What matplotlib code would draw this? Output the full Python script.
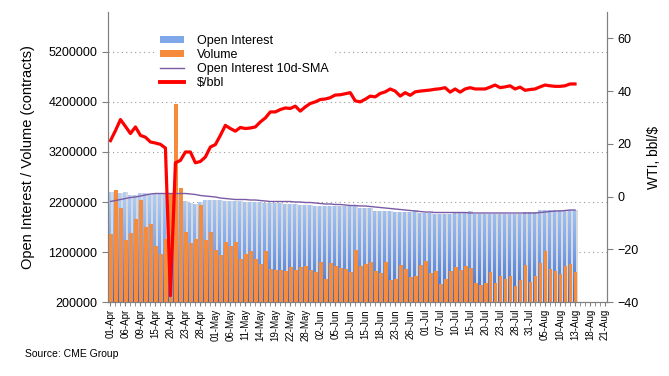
import matplotlib
matplotlib.use('Agg')
import matplotlib.pyplot as plt
import numpy as np
import pandas as pd
from matplotlib.colors import LinearSegmentedColormap
from matplotlib.lines import Line2D
from matplotlib.patches import Patch
from matplotlib.path import Path

plt.rcParams['font.family'] = ['Liberation Sans', 'DejaVu Sans']

# trading days (US holidays skipped), data runs to 13-Aug, axis to 21-Aug
dates = pd.bdate_range('2020-04-01', '2020-08-21', freq='C',
                       holidays=['2020-04-10', '2020-05-25', '2020-07-03'])
tick_labels = [d.strftime('%d-%b') for d in dates[::3]]

open_interest = [
    2.39, 2.39, 2.38, 2.39, 2.34, 2.33, 2.37, 2.37, 2.36, 2.37,
    2.37, 2.36, 2.36, 2.38, 2.36, 2.23, 2.19, 2.17, 2.21, 2.25,
    2.24, 2.25, 2.24, 2.23, 2.23, 2.22, 2.22, 2.21, 2.21, 2.20,
    2.20, 2.19, 2.18, 2.18, 2.18, 2.17, 2.17, 2.16, 2.15, 2.15,
    2.14, 2.13, 2.13, 2.13, 2.12, 2.12, 2.13, 2.13, 2.13, 2.13,
    2.09, 2.09, 2.09, 2.03, 2.02, 2.02, 2.02, 2.00, 2.00, 2.00,
    2.00, 2.04, 1.99, 1.99, 1.99, 1.96, 1.96, 1.96, 1.96, 1.99,
    1.99, 1.99, 2.02, 1.97, 1.97, 1.97, 1.97, 1.97, 1.97, 1.97,
    1.97, 1.97, 1.97, 2.00, 2.00, 2.00, 2.05, 2.05, 2.04, 2.04,
    2.04, 2.05, 2.05, 2.05,
]
volume = [
    1.56, 2.44, 2.08, 1.44, 1.58, 1.86, 2.24, 1.70, 1.76, 1.32,
    1.17, 1.46, 2.37, 4.15, 2.48, 1.60, 1.38, 1.46, 2.14, 1.44,
    1.60, 1.24, 1.14, 1.40, 1.32, 1.40, 1.06, 1.16, 1.22, 1.06,
    0.97, 1.22, 0.86, 0.84, 0.84, 0.82, 0.90, 0.84, 0.90, 0.92,
    0.84, 0.80, 1.00, 0.66, 0.98, 0.92, 0.88, 0.86, 0.80, 1.24,
    0.92, 0.96, 1.00, 0.82, 0.78, 1.00, 0.64, 0.66, 0.94, 0.86,
    0.70, 0.72, 0.94, 1.02, 0.78, 0.82, 0.56, 0.66, 0.82, 0.90,
    0.84, 0.92, 0.88, 0.58, 0.54, 0.58, 0.80, 0.58, 0.72, 0.66,
    0.72, 0.52, 0.64, 0.94, 0.60, 0.72, 0.98, 1.22, 0.86, 0.82,
    0.76, 0.92, 0.96, 0.80,
]
oi_sma = [
    2.21, 2.23, 2.25, 2.27, 2.29, 2.30, 2.32, 2.34, 2.36, 2.37,
    2.37, 2.37, 2.37, 2.37, 2.37, 2.37, 2.36, 2.35, 2.33, 2.32,
    2.31, 2.30, 2.28, 2.27, 2.26, 2.25, 2.25, 2.25, 2.24, 2.24,
    2.23, 2.22, 2.21, 2.21, 2.21, 2.21, 2.21, 2.20, 2.20, 2.19,
    2.19, 2.18, 2.17, 2.16, 2.16, 2.15, 2.15, 2.14, 2.13, 2.13,
    2.12, 2.12, 2.11, 2.10, 2.09, 2.08, 2.07, 2.06, 2.05, 2.04,
    2.03, 2.02, 2.01, 2.00, 2.00, 1.99, 1.99, 1.99, 1.99, 1.99,
    1.99, 1.99, 1.98, 1.98, 1.98, 1.98, 1.98, 1.98, 1.98, 1.98,
    1.98, 1.98, 1.98, 1.98, 1.98, 1.98, 1.99, 2.00, 2.01, 2.02,
    2.02, 2.03, 2.04, 2.04,
]
wti = [
    21.2, 25.0, 29.2, 26.6, 23.9, 26.4, 23.2, 22.5, 20.7, 20.3,
    19.8, 18.4, -37.6, 12.8, 13.7, 16.9, 16.9, 12.8, 13.3, 15.0,
    18.8, 19.7, 23.2, 27.0, 25.8, 24.8, 26.2, 25.8, 26.0, 26.4,
    28.3, 29.8, 32.1, 32.1, 33.0, 33.6, 33.4, 34.3, 32.4, 34.0,
    35.3, 35.9, 36.8, 37.0, 37.5, 38.5, 38.6, 39.0, 39.4, 36.3,
    35.9, 36.9, 38.1, 37.8, 39.1, 39.7, 40.8, 40.0, 38.1, 39.4,
    38.4, 39.7, 40.0, 40.2, 40.4, 40.7, 40.9, 41.3, 39.6, 40.8,
    39.6, 40.8, 41.3, 40.8, 40.8, 40.8, 41.5, 42.3, 41.3, 41.6,
    42.0, 40.8, 41.5, 40.3, 40.6, 40.8, 41.6, 42.3, 42.0, 41.8,
    41.8, 42.0, 42.7, 42.7,
]

oi = np.array(open_interest) * 1e6
vol = np.array(volume) * 1e6
sma = np.array(oi_sma) * 1e6
x = np.arange(len(oi))

grey = '#808080'
fig = plt.figure(figsize=(6.69, 3.76), dpi=100)
ax = fig.add_axes([0.1614, 0.1968, 0.7459, 0.7713])
ax2 = ax.twinx()

# open interest: grey shadow + blue gradient clipped to the bars
ax.bar(x + 0.1, oi, 0.8, color='#d9d9d9', zorder=1)
oi_bars = ax.bar(x - 0.15, oi, 0.7, color='none', zorder=2)
grad = np.linspace(0, 1, 256).reshape(-1, 1)
cmap = LinearSegmentedColormap.from_list('oi', ['#3a6bcc', '#7ea6ec', '#b3d0f8'])
im = ax.imshow(grad, extent=[-0.5, 99.5, 200000, 2400000], origin='lower',
               aspect='auto', cmap=cmap, zorder=2)
clip = Path.make_compound_path(
    *[b.get_path().transformed(b.get_patch_transform()) for b in oi_bars])
im.set_clip_path(clip, ax.transData)

ax.bar(x + 0.12, vol, 0.72, color='#f68b3c', zorder=3)
ax.plot(x, sma, color='#7a5aa6', lw=1, zorder=4)
ax2.plot(x, wti, color='#ff0000', lw=2.3, solid_joinstyle='round')

ax.set_xlim(-0.5, 99.4)
ax.set_ylim(200000, 6000000)
ax2.set_ylim(-40, 70)

ax.set_yticks(range(200000, 5200001, 1000000))
ax.set_yticklabels([str(v) for v in range(200000, 5200001, 1000000)])
ax2.set_yticks(range(-40, 61, 20))
ax.set_xticks(np.arange(0, len(dates), 3))
ax.set_xticklabels(tick_labels, rotation=90, fontsize=7)
ax.set_xticks(np.arange(len(dates)), minor=True)

ax.set_axisbelow(True)
ax.yaxis.grid(True, linestyle=(0, (1, 3)), color='#9a9a9a', lw=0.8)

for a in (ax, ax2):
    a.spines['top'].set_visible(False)
    for s in ('left', 'right', 'bottom'):
        a.spines[s].set_color(grey)
    a.tick_params(axis='y', length=4, color=grey, labelsize=9)
ax.tick_params(axis='x', which='both', length=3, color=grey, pad=2)

ax.set_ylabel('Open Interest / Volume (contracts)', fontsize=10.5, labelpad=10)
ax2.set_ylabel('WTI, bbl/$', fontsize=10, labelpad=6)

handles = [
    Patch(facecolor='#7fa8ea'),
    Patch(facecolor='#f68b3c'),
    Line2D([], [], color='#7a5aa6', lw=1),
    Line2D([], [], color='#ff0000', lw=2.8),
]
names = ['Open Interest', 'Volume', 'Open Interest 10d-SMA', '$/bbl']
ax2.legend(handles, names, loc='upper left', bbox_to_anchor=(0.085, 0.955),
           fontsize=9, frameon=True, facecolor='white', edgecolor='none',
           framealpha=1, fancybox=False, labelspacing=0.15, handlelength=1.9,
           handleheight=0.5, handletextpad=1.0, borderpad=0.3)

fig.text(0.037, 0.05, 'Source: CME Group', fontsize=7.5)

fig.savefig('out.png', dpi=100)
